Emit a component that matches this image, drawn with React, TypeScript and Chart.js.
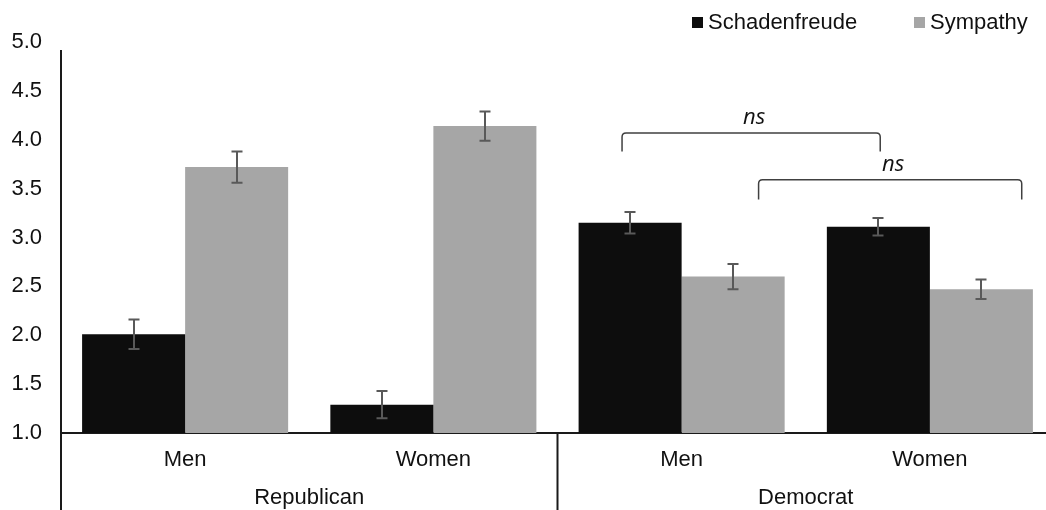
import React, { useEffect, useRef } from "react";
import { Chart, registerables } from "chart.js";

Chart.register(...registerables);

const categories = ["Men", "Women", "Men", "Women"];
const groups = ["Republican", "Democrat"];
const seriesNames = ["Schadenfreude", "Sympathy"];
const schadenfreude = [2.01, 1.29, 3.15, 3.11];
const sympathy = [3.72, 4.14, 2.6, 2.47];
const schadenfreudeErr = [0.15, 0.14, 0.11, 0.09];
const sympathyErr = [0.16, 0.15, 0.13, 0.1];
const yTicks = [1.0, 1.5, 2.0, 2.5, 3.0, 3.5, 4.0, 4.5, 5.0];
// brackets: [xStart (category units), xEnd, top value, end value, label]
const brackets: [number, number, number, number, string][] = [
  [1.76, 2.8, 4.07, 3.88, "ns"],
  [2.31, 3.37, 3.59, 3.39, "ns"],
];

const COLORS = ["#0d0d0d", "#a6a6a6"];
const FONT = '"Liberation Sans", Arial, sans-serif';
const TEXT = "#111111";

const overlay = {
  id: "overlay",
  afterDatasetsDraw(chart: any) {
    const ctx = chart.ctx;
    const x = chart.scales.x;
    const y = chart.scales.y;
    const errs = [schadenfreudeErr, sympathyErr];
    const vals = [schadenfreude, sympathy];
    ctx.save();
    ctx.strokeStyle = "#595959";
    ctx.lineWidth = 2;
    chart.data.datasets.forEach((_: any, di: number) => {
      const meta = chart.getDatasetMeta(di);
      meta.data.forEach((bar: any, i: number) => {
        const cx = Math.round(bar.x);
        const top = y.getPixelForValue(vals[di][i] + errs[di][i]);
        const bot = y.getPixelForValue(vals[di][i] - errs[di][i]);
        ctx.beginPath();
        ctx.moveTo(cx, top);
        ctx.lineTo(cx, bot);
        ctx.moveTo(cx - 5.5, top);
        ctx.lineTo(cx + 5.5, top);
        ctx.moveTo(cx - 5.5, bot);
        ctx.lineTo(cx + 5.5, bot);
        ctx.stroke();
      });
    });
    ctx.restore();
  },
  afterDraw(chart: any) {
    const ctx = chart.ctx;
    const x = chart.scales.x;
    const y = chart.scales.y;
    const area = chart.chartArea;
    ctx.save();
    // axis lines & separators
    ctx.strokeStyle = "#1a1a1a";
    ctx.lineWidth = 2;
    const sepXs = [
      area.left,
      (x.getPixelForValue(1) + x.getPixelForValue(2)) / 2,
      area.right,
    ];
    ctx.beginPath();
    ctx.moveTo(area.left, 50);
    ctx.lineTo(area.left, chart.height);
    sepXs.slice(1).forEach((sx) => {
      ctx.moveTo(sx, area.bottom);
      ctx.lineTo(sx, chart.height);
    });
    ctx.stroke();
    // group labels
    ctx.fillStyle = TEXT;
    ctx.font = `22px ${FONT}`;
    ctx.textAlign = "center";
    ctx.textBaseline = "middle";
    groups.forEach((g, gi) => {
      const cx = (sepXs[gi] + sepXs[gi + 1]) / 2;
      ctx.fillText(g, cx, 498);
    });
    // brackets
    ctx.strokeStyle = "#404040";
    ctx.lineWidth = 1.5;
    brackets.forEach(([a, b, t, e, label]) => {
      const x1 = x.getPixelForValue(a);
      const x2 = x.getPixelForValue(b);
      const yt = y.getPixelForValue(t);
      const ye = y.getPixelForValue(e);
      const r = 4;
      ctx.beginPath();
      ctx.moveTo(x1, ye);
      ctx.lineTo(x1, yt + r);
      ctx.quadraticCurveTo(x1, yt, x1 + r, yt);
      ctx.lineTo(x2 - r, yt);
      ctx.quadraticCurveTo(x2, yt, x2, yt + r);
      ctx.lineTo(x2, ye);
      ctx.stroke();
      ctx.font = `italic 22px "Open Sans", sans-serif`;
      ctx.fillStyle = TEXT;
      ctx.textAlign = "center";
      ctx.textBaseline = "alphabetic";
      ctx.fillText(label, (x1 + x2) / 2 + 3, yt - 9);
    });
    // legend
    ctx.font = `22px ${FONT}`;
    ctx.textAlign = "left";
    ctx.textBaseline = "middle";
    const legendX = [692, 914];
    seriesNames.forEach((name, i) => {
      ctx.fillStyle = COLORS[i];
      ctx.fillRect(legendX[i], 17, 11, 11);
      ctx.fillStyle = TEXT;
      ctx.fillText(name, legendX[i] + 16, 23);
    });
    ctx.restore();
  },
};

export default function App() {
  const ref = useRef<HTMLCanvasElement>(null);
  useEffect(() => {
    if (!ref.current) return;
    const chart = new Chart(ref.current, {
      type: "bar",
      data: {
        labels: categories,
        datasets: [
          {
            label: seriesNames[0],
            data: schadenfreude,
            backgroundColor: COLORS[0],
            barPercentage: 1,
            categoryPercentage: 0.83,
          },
          {
            label: seriesNames[1],
            data: sympathy,
            backgroundColor: COLORS[1],
            barPercentage: 1,
            categoryPercentage: 0.83,
          },
        ],
      },
      options: {
        animation: false,
        responsive: false,
        layout: { padding: { top: 42, right: 8, left: 0, bottom: 0 } },
        plugins: {
          legend: { display: false },
          tooltip: { enabled: false },
        },
        scales: {
          x: {
            grid: { display: false, drawTicks: false },
            border: { display: true, color: "#1a1a1a", width: 2 },
            ticks: {
              color: TEXT,
              font: { family: FONT, size: 22 },
              padding: 14,
              maxRotation: 0,
            },
            afterFit: (s: any) => {
              s.height = 77;
            },
          },
          y: {
            min: 1,
            max: 5,
            grid: { display: false, drawTicks: false },
            border: { display: false },
            afterBuildTicks: (s: any) => {
              s.ticks = yTicks.map((v) => ({ value: v }));
            },
            ticks: {
              color: TEXT,
              font: { family: FONT, size: 22 },
              padding: 19,
              callback: (v: any) => Number(v).toFixed(1),
            },
            afterFit: (s: any) => {
              s.width = 61;
            },
          },
        },
      },
      plugins: [overlay],
    });
    return () => chart.destroy();
  }, []);
  return (
    <div
      style={{
        position: "fixed",
        left: 0,
        top: 0,
        width: 1046,
        height: 510,
        overflow: "hidden",
        background: "#fff",
      }}
    >
      <canvas ref={ref} width={1062} height={510} style={{ width: 1062, height: 510 }} />
    </div>
  );
}
